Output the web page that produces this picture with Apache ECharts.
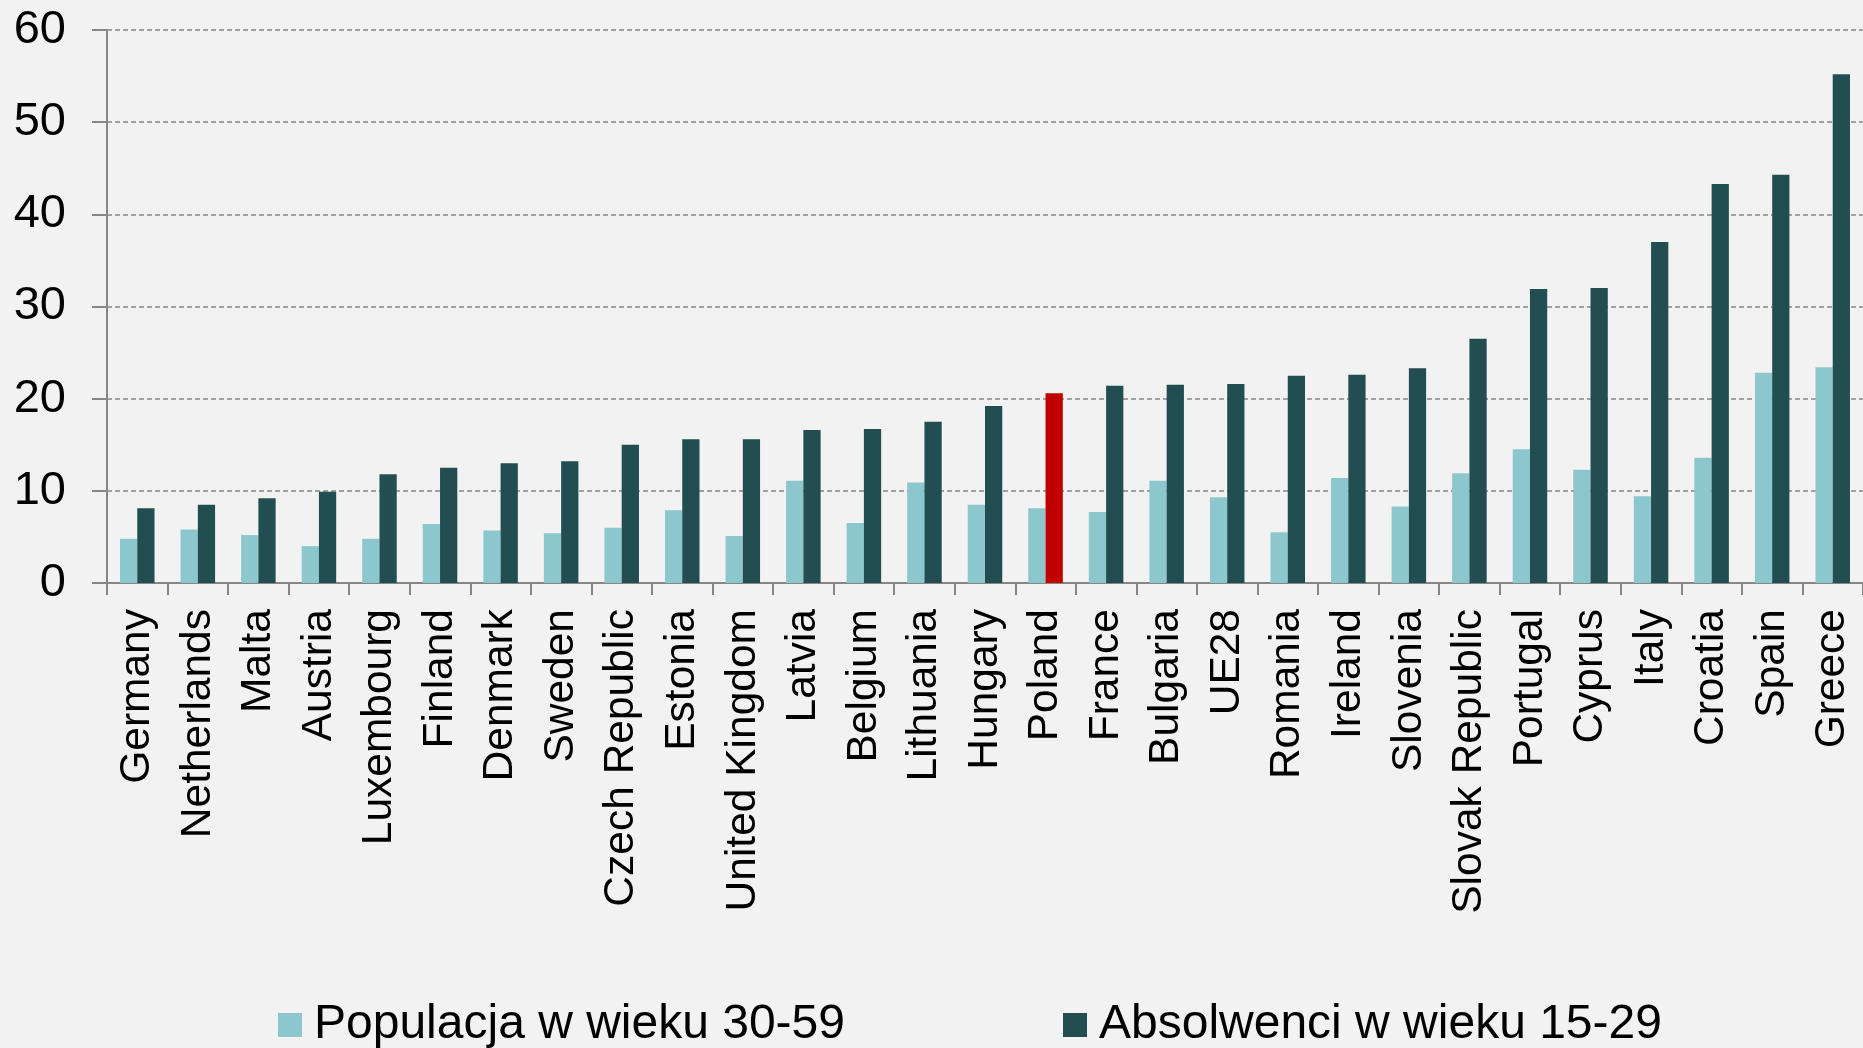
<!DOCTYPE html>
<html>
<head>
<meta charset="utf-8" />
<title>Absolwenci</title>
<script src="https://cdn.jsdelivr.net/npm/echarts@6/dist/echarts.min.js"></script>
<style>
html, body { margin: 0; padding: 0; background: #f2f2f2; }
</style>
</head>
<body>
<div id="main" style="width: 1863px;height:1048px;"></div>
<script type="text/javascript">
// kraje (kolejność jak na wykresie)
var countries = ['Germany', 'Netherlands', 'Malta', 'Austria', 'Luxembourg', 'Finland', 'Denmark',
  'Sweden', 'Czech Republic', 'Estonia', 'United Kingdom', 'Latvia', 'Belgium', 'Lithuania',
  'Hungary', 'Poland', 'France', 'Bulgaria', 'UE28', 'Romania', 'Ireland', 'Slovenia',
  'Slovak Republic', 'Portugal', 'Cyprus', 'Italy', 'Croatia', 'Spain', 'Greece'];

// Populacja w wieku 30-59
var population = [4.8, 5.8, 5.2, 4.0, 4.8, 6.4, 5.7, 5.4, 6.0, 7.9, 5.1, 11.1, 6.5, 10.9,
  8.5, 8.1, 7.7, 11.1, 9.3, 5.5, 11.4, 8.3, 11.9, 14.5, 12.3, 9.4, 13.6, 22.8, 23.4];

// Absolwenci w wieku 15-29
var graduates = [8.1, 8.5, 9.2, 9.9, 11.8, 12.5, 13.0, 13.2, 15.0, 15.6, 15.6, 16.6, 16.7, 17.5,
  19.2, 20.6, 21.4, 21.5, 21.6, 22.5, 22.6, 23.3, 26.5, 31.9, 32.0, 37.0, 43.3, 44.3, 55.2];

var yTicks = { min: 0, max: 60, interval: 10 };
var highlight = 'Poland';

var myChart = echarts.init(document.getElementById('main'));

var gradData = graduates.map(function (v, i) {
  if (countries[i] === highlight) {
    return { value: v, itemStyle: { color: '#c00000' } };
  }
  return v;
});

var font = 'Liberation Sans, Arial, sans-serif';

option = {
  backgroundColor: '#f2f2f2',
  animation: false,
  grid: { left: 107, right: 0, top: 30, bottom: 465 },
  legend: {
    left: 273,
    top: 996,
    itemWidth: 24,
    itemHeight: 24,
    itemGap: 218,
    icon: 'rect',
    textStyle: { fontFamily: font, fontSize: 48, color: '#000', padding: [0, 0, 0, 7] },
    data: ['Populacja w wieku 30-59', 'Absolwenci w wieku 15-29']
  },
  xAxis: {
    type: 'category',
    data: countries,
    axisLine: { lineStyle: { color: '#868686', width: 2 } },
    axisTick: { show: true, length: 12, lineStyle: { color: '#868686', width: 2 } },
    axisLabel: {
      rotate: 90,
      interval: 0,
      margin: 26,
      color: '#000',
      fontFamily: font,
      fontSize: 42.5
    }
  },
  yAxis: {
    type: 'value',
    min: yTicks.min,
    max: yTicks.max,
    interval: yTicks.interval,
    axisLine: { show: true, lineStyle: { color: '#868686', width: 2 } },
    axisTick: { show: true, length: 15, lineStyle: { color: '#868686', width: 2 } },
    axisLabel: {
      margin: 41,
      color: '#000',
      fontFamily: font,
      fontSize: 47
    },
    splitLine: { lineStyle: { color: '#868686', width: 1.5, type: [5, 3] } }
  },
  series: [
    {
      name: 'Populacja w wieku 30-59',
      type: 'bar',
      data: population,
      barGap: '0%',
      barCategoryGap: '43%',
      itemStyle: { color: '#8cc7cd' }
    },
    {
      name: 'Absolwenci w wieku 15-29',
      type: 'bar',
      data: gradData,
      barGap: '0%',
      barCategoryGap: '43%',
      itemStyle: { color: '#224e52' }
    }
  ]
};

myChart.setOption(option);
</script>
</body>
</html>
